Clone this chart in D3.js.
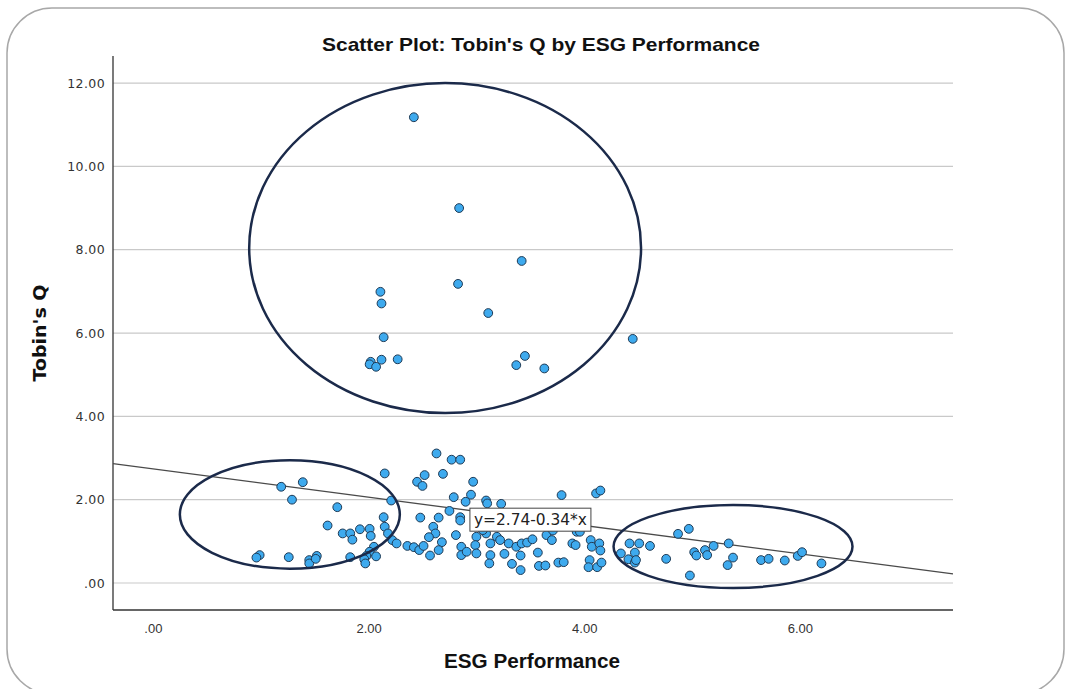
<!DOCTYPE html>
<html>
<head>
<meta charset="utf-8">
<script src="https://cdn.jsdelivr.net/npm/d3@7"></script>
<style>
  body { margin: 0; background: #fff; }
  svg { display: block; }
</style>
</head>
<body>
<div id="chart"></div>
<script>
// ESG performance (x) and Tobin's Q (y), one entry per firm
const esgScores = [
  2.42, 2.84, 3.42, 2.83, 2.11, 2.12, 3.11, 2.14, 4.45, 2.02, 2.01, 2.07, 2.12, 2.27, 3.45, 3.37, 3.63,
  1.19, 1.39, 1.29, 1.71, 1.62, 2.15, 2.21, 2.14, 2.15, 2.18, 2.22, 2.26, 1.76, 1.83, 1.85, 1.92, 2.01,
  2.02, 2.05, 2.01, 1.98, 2.07, 1.96, 1.97, 1.83, 0.99, 0.96, 1.26, 1.45, 1.45, 1.52, 1.51,
  2.45, 2.50, 2.52, 2.48, 2.36, 2.42, 2.47, 2.51, 2.63, 2.77, 2.85, 2.69, 2.97, 2.79, 2.95, 2.90,
  3.09, 3.10, 3.23, 2.75, 2.85, 2.85, 2.65, 2.60, 2.62, 2.56, 2.68, 2.81, 2.57, 2.65, 2.86, 2.86,
  2.91, 3.00, 2.99, 3.00, 3.09, 3.13, 3.13, 3.12, 3.19, 3.22, 3.26, 3.30, 3.37, 3.42, 3.41, 3.33,
  3.41, 3.47, 3.52, 3.57, 3.58, 3.64, 3.65, 3.70, 3.79, 3.76, 3.81, 3.89, 3.92, 3.93, 4.06, 4.07,
  4.14, 4.15, 4.05, 4.04, 4.12, 4.16, 4.11, 4.15, 3.06, 3.71, 3.96,
  4.34, 4.42, 4.51, 4.47, 4.41, 4.47, 4.48, 4.61, 4.76, 4.87, 4.97, 4.98, 5.02, 5.04, 5.12, 5.14,
  5.20, 5.34, 5.38, 5.33, 5.64, 5.71, 5.86, 5.98, 6.02, 6.20
];
const tobinsQ = [
  11.18, 9.00, 7.73, 7.18, 6.99, 6.71, 6.48, 5.90, 5.86, 5.31, 5.25, 5.19, 5.36, 5.37, 5.45, 5.23, 5.15,
  2.31, 2.42, 2.00, 1.82, 1.38, 2.63, 1.98, 1.58, 1.35, 1.19, 1.03, 0.95, 1.19, 1.19, 1.04, 1.29, 1.30,
  1.13, 0.87, 0.75, 0.65, 0.64, 0.57, 0.47, 0.62, 0.67, 0.61, 0.62, 0.55, 0.47, 0.65, 0.58,
  2.43, 2.33, 2.59, 1.57, 0.89, 0.86, 0.79, 0.89, 3.11, 2.96, 2.96, 2.62, 2.43, 2.06, 2.12, 1.95,
  1.98, 1.91, 1.90, 1.73, 1.58, 1.50, 1.57, 1.35, 1.19, 1.10, 0.98, 1.15, 0.66, 0.79, 0.87, 0.67,
  0.75, 1.11, 0.91, 0.71, 1.19, 0.95, 0.67, 0.47, 1.11, 1.03, 0.70, 0.95, 0.87, 0.95, 0.66, 0.46,
  0.31, 0.97, 1.05, 0.73, 0.41, 0.42, 1.15, 1.03, 2.11, 0.49, 0.50, 0.95, 0.91, 1.23, 1.03, 0.87,
  0.95, 0.78, 0.55, 0.38, 0.38, 0.49, 2.15, 2.22, 1.27, 1.26, 1.23,
  0.71, 0.95, 0.95, 0.73, 0.57, 0.49, 0.55, 0.89, 0.58, 1.18, 1.30, 0.18, 0.74, 0.66, 0.79, 0.67,
  0.89, 0.95, 0.61, 0.43, 0.55, 0.58, 0.54, 0.65, 0.74, 0.47
];

const xTicks = [0, 2, 4, 6];
const xTickLabels = [".00", "2.00", "4.00", "6.00"];
const yTicks = [0, 2, 4, 6, 8, 10, 12];
const yTickLabels = [".00", "2.00", "4.00", "6.00", "8.00", "10.00", "12.00"];

// fit line y = a + b*x
const fitIntercept = 2.74;
const fitSlope = -0.34;
const fitLabel = "y=2.74-0.34*x";

// hand-drawn circles around groups (center x, center y, radius x, radius y in data units)
const groupCx = [2.71, 1.27, 5.38];
const groupCy = [8.04, 1.645, 0.876];
const groupRx = [1.817, 1.02, 1.108];
const groupRy = [3.96, 1.30, 0.996];

const width = 1068;
const height = 689;
const plot = { left: 113, right: 953, top: 56, bottom: 610 };
const narrow = "Liberation Sans Narrow, Arial Narrow, Liberation Sans, sans-serif";

const svg = d3.select("#chart")
  .append("svg")
  .attr("width", width)
  .attr("height", height);

// rounded frame
svg.append("rect")
  .attr("x", 7).attr("y", 8)
  .attr("width", 1057).attr("height", 686)
  .attr("rx", 45).attr("ry", 45)
  .attr("fill", "#fff")
  .attr("stroke", "#a8a8a8")
  .attr("stroke-width", 1.5);

const x = d3.scaleLinear().domain([-0.37, 7.42]).range([plot.left, plot.right]);
const y = d3.scaleLinear().domain([-0.648, 12.65]).range([plot.bottom, plot.top]);

// gridlines
svg.append("g")
  .selectAll("line")
  .data(yTicks)
  .join("line")
  .attr("x1", plot.left).attr("x2", plot.right)
  .attr("y1", d => y(d)).attr("y2", d => y(d))
  .attr("stroke", "#c9c9c9")
  .attr("stroke-width", 1.2);

// y axis
const yAxis = svg.append("g")
  .attr("transform", `translate(${plot.left},0)`)
  .call(d3.axisLeft(y).tickValues(yTicks).tickSize(0).tickPadding(8)
    .tickFormat((d, i) => yTickLabels[i]));
yAxis.select(".domain").attr("stroke", "#333").attr("stroke-width", 1.3)
  .attr("d", `M0,${plot.top}V${plot.bottom}`);
yAxis.selectAll("text")
  .attr("font-family", "DejaVu Sans, sans-serif")
  .attr("font-size", 12.5)
  .attr("letter-spacing", 0.4)
  .attr("fill", "#333");

// x axis
const xAxis = svg.append("g")
  .attr("transform", `translate(0,${plot.bottom})`)
  .call(d3.axisBottom(x).tickValues(xTicks).tickSize(0).tickPadding(14)
    .tickFormat((d, i) => xTickLabels[i]));
xAxis.select(".domain").attr("stroke", "#333").attr("stroke-width", 1.3)
  .attr("d", `M${plot.left},0H${plot.right}`);
xAxis.selectAll("text")
  .attr("font-family", narrow)
  .attr("font-size", 13)
  .attr("fill", "#333");

// fit line
const xd = x.domain();
svg.append("line")
  .attr("x1", x(xd[0])).attr("y1", y(fitIntercept + fitSlope * xd[0]))
  .attr("x2", x(xd[1])).attr("y2", y(fitIntercept + fitSlope * xd[1]))
  .attr("stroke", "#4a4a4a")
  .attr("stroke-width", 1.3);

// points
const points = esgScores.map((v, i) => ({ esg: v, q: tobinsQ[i] }));
svg.append("g")
  .selectAll("circle")
  .data(points)
  .join("circle")
  .attr("cx", d => x(d.esg))
  .attr("cy", d => y(d.q))
  .attr("r", 4.4)
  .attr("fill", "#3eaaee")
  .attr("stroke", "#1e3a55")
  .attr("stroke-width", 1);

// fit label box
const lbl = svg.append("g")
  .attr("transform", `translate(${x(2.94)},${y(1.52)})`);
lbl.append("rect")
  .attr("x", 0).attr("y", -11.5)
  .attr("width", 121).attr("height", 23)
  .attr("fill", "#fff")
  .attr("stroke", "#444")
  .attr("stroke-width", 1);
lbl.append("text")
  .attr("x", 4).attr("y", 5.5)
  .attr("font-family", "DejaVu Sans, sans-serif")
  .attr("font-size", 15)
  .attr("textLength", 113)
  .attr("lengthAdjust", "spacingAndGlyphs")
  .attr("fill", "#222")
  .text(fitLabel);

// group ellipses
svg.append("g")
  .selectAll("ellipse")
  .data(groupCx)
  .join("ellipse")
  .attr("cx", d => x(d))
  .attr("cy", (d, i) => y(groupCy[i]))
  .attr("rx", (d, i) => x(groupRx[i]) - x(0))
  .attr("ry", (d, i) => y(0) - y(groupRy[i]))
  .attr("fill", "none")
  .attr("stroke", "#1b2a4a")
  .attr("stroke-width", 2.5);

// titles
svg.append("text")
  .attr("x", 541).attr("y", 51)
  .attr("text-anchor", "middle")
  .attr("font-family", narrow)
  .attr("font-weight", "bold")
  .attr("font-size", 19)
  .attr("textLength", 438)
  .attr("lengthAdjust", "spacingAndGlyphs")
  .attr("fill", "#111")
  .text("Scatter Plot: Tobin's Q by ESG Performance");

svg.append("text")
  .attr("x", 532).attr("y", 668)
  .attr("text-anchor", "middle")
  .attr("font-family", narrow)
  .attr("font-weight", "bold")
  .attr("font-size", 21)
  .attr("textLength", 176)
  .attr("lengthAdjust", "spacingAndGlyphs")
  .attr("fill", "#111")
  .text("ESG Performance");

svg.append("text")
  .attr("transform", "translate(46,333) rotate(-90)")
  .attr("text-anchor", "middle")
  .attr("font-family", "DejaVu Sans, sans-serif")
  .attr("font-weight", "bold")
  .attr("font-size", 17)
  .attr("textLength", 97)
  .attr("lengthAdjust", "spacingAndGlyphs")
  .attr("fill", "#111")
  .text("Tobin's Q");
</script>
</body>
</html>
